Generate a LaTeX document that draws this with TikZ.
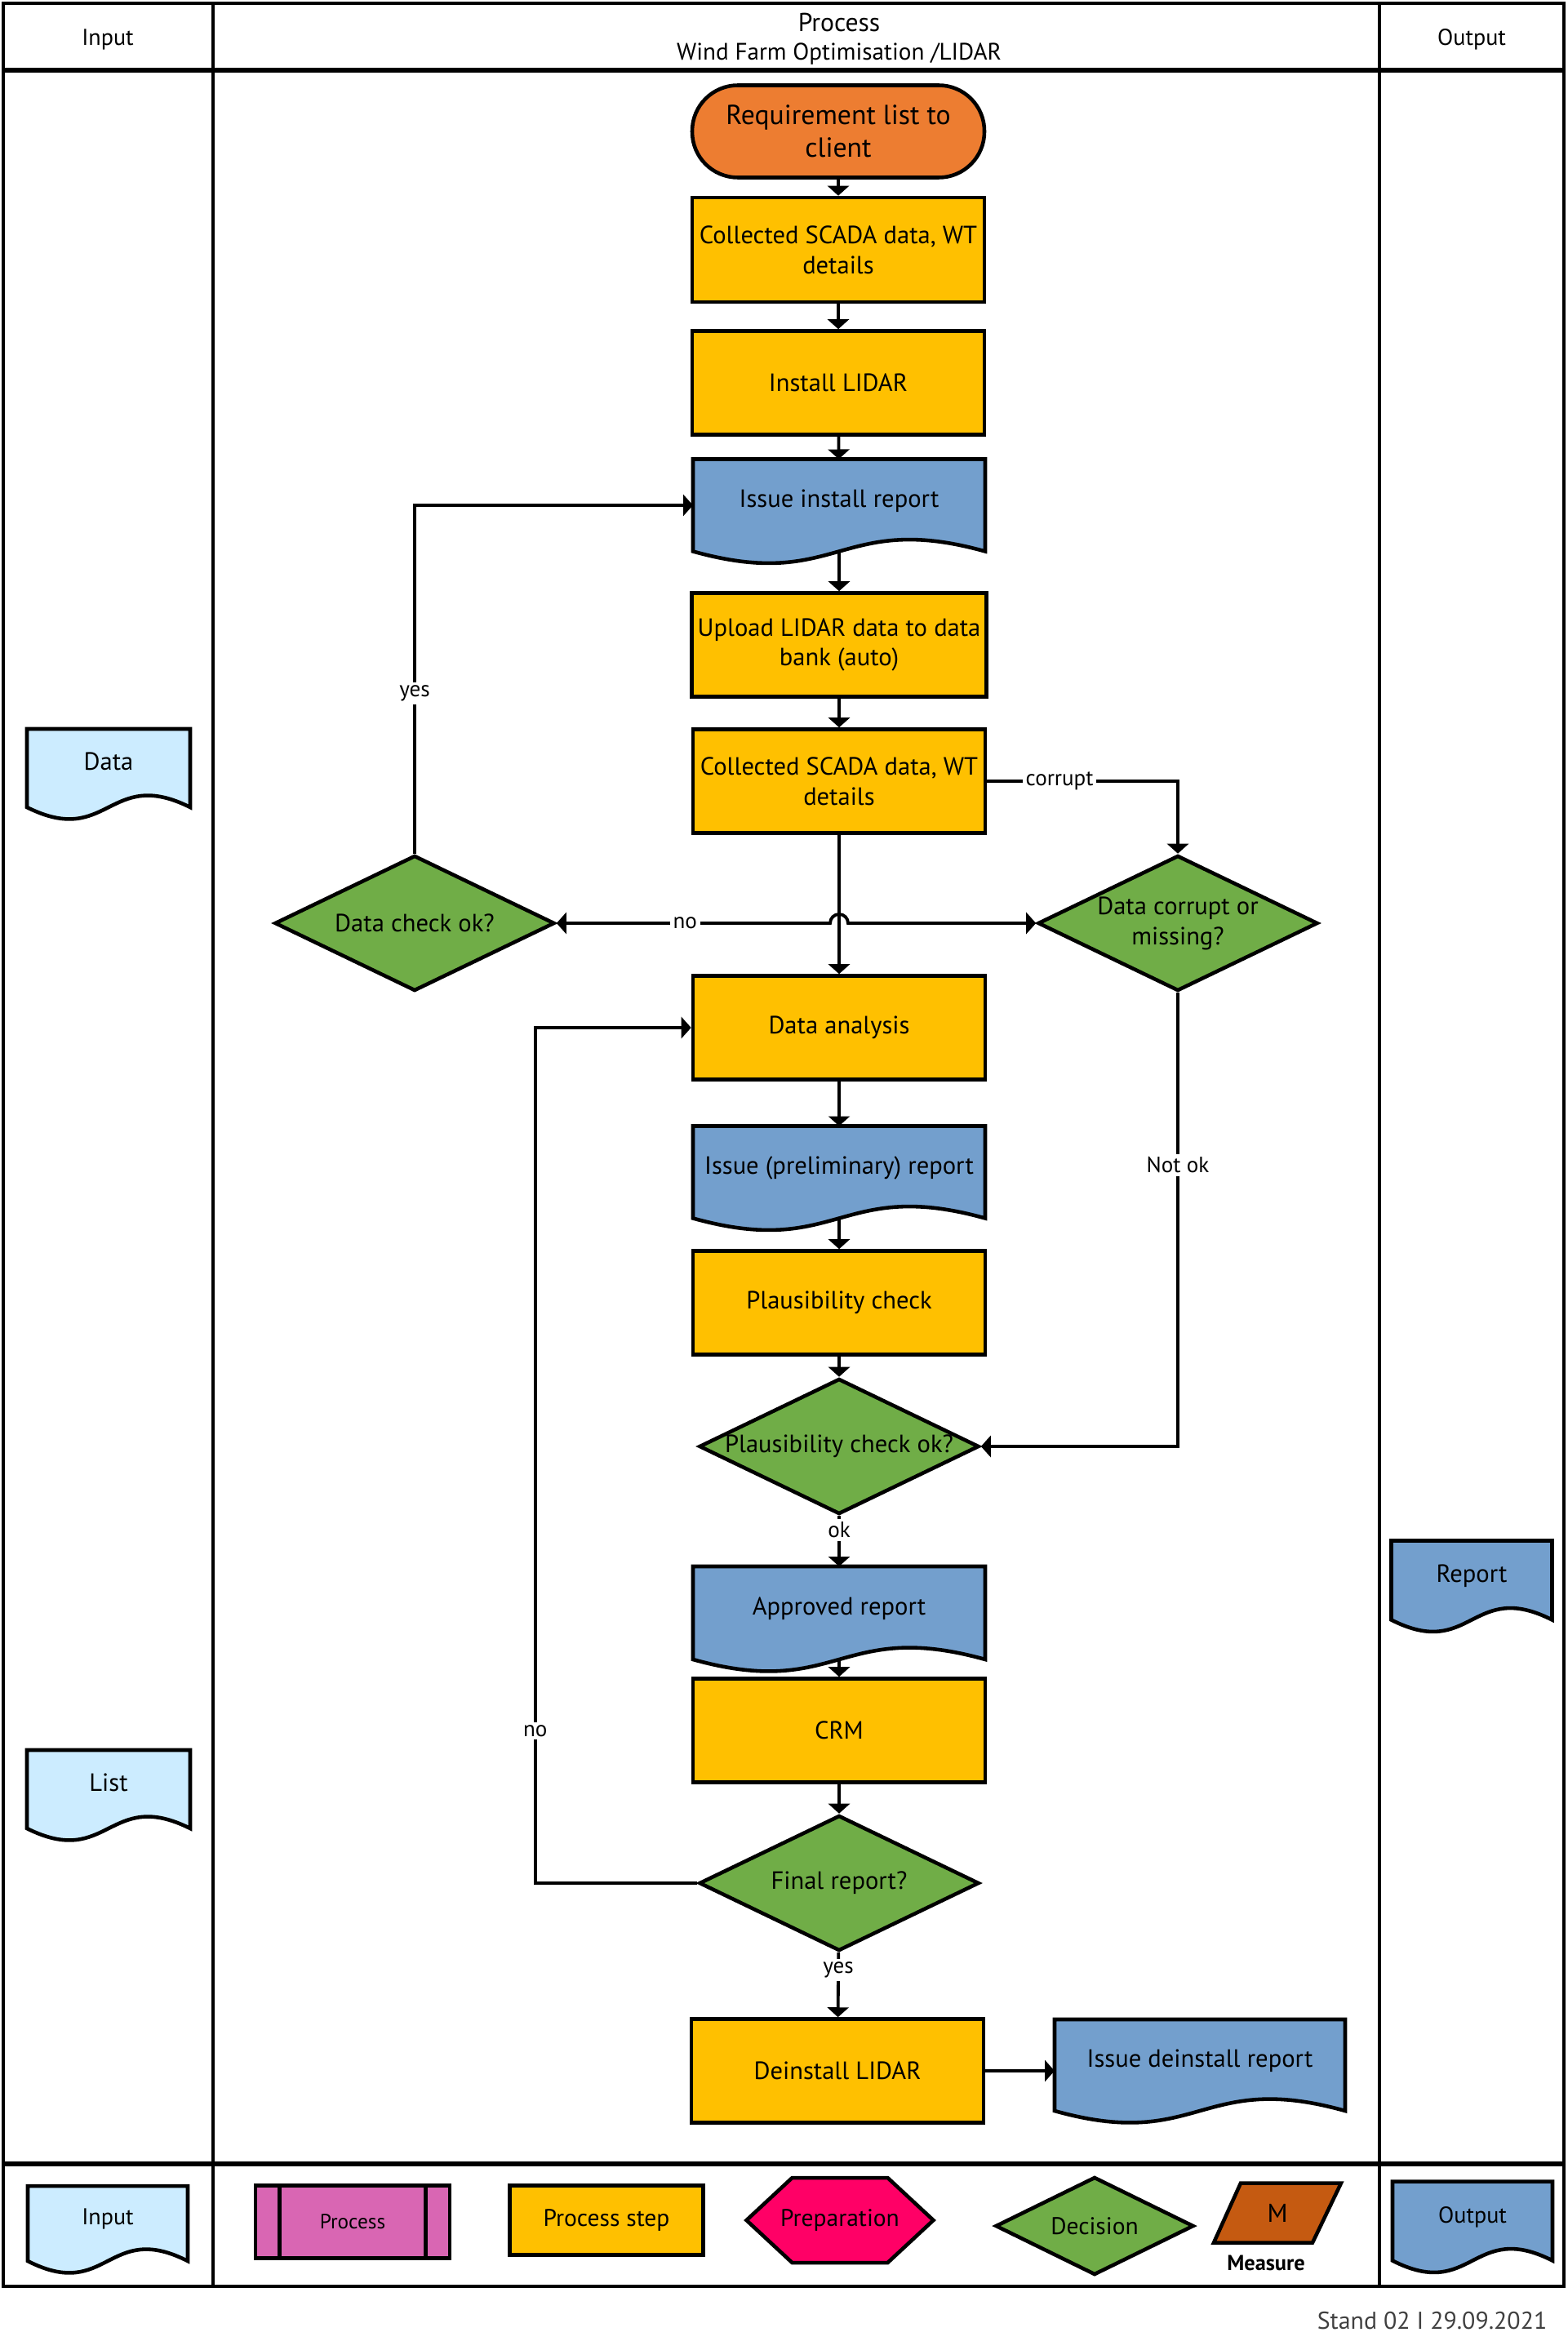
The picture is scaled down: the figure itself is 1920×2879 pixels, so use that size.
\documentclass[tikz,border=0pt]{standalone}
\usepackage{fontspec}
\setmainfont{PT Sans}
\usepackage{xcolor}
\usetikzlibrary{shapes.geometric, arrows.meta, calc, backgrounds}

\definecolor{termcol}{HTML}{ED7D31}
\definecolor{stepcol}{HTML}{FFC000}
\definecolor{doccol}{HTML}{739FCD}
\definecolor{inputcol}{HTML}{CCECFF}
\definecolor{deccol}{HTML}{70AD47}
\definecolor{proccol}{HTML}{D966B3}
\definecolor{prepcol}{HTML}{FF0066}
\definecolor{meascol}{HTML}{C55A11}

\tikzset{
  boxtext/.style={font=\fontsize{8.7}{10.5}\selectfont, align=center},
  stepbox/.style={boxtext, draw, line width=1.3pt, fill=stepcol, minimum width=35.8mm, minimum height=12.7mm, inner sep=2pt},
  termbox/.style={stepbox, fill=termcol, rounded corners=5.6mm, minimum height=11.3mm, font=\fontsize{9.6}{11.3}\selectfont},
  decbox/.style={boxtext, diamond, draw, line width=1.3pt, fill=deccol, aspect=2.07, inner sep=0pt, minimum width=34.3mm, minimum height=16.6mm},
  plainbox/.style={boxtext, inner sep=0pt, outer sep=0pt},
  docbox/.style={plainbox, text depth=1.6mm, minimum width=35.8mm, minimum height=11.3mm},
  arr/.style={line width=1.1pt, -{Triangle[width=2.6mm,length=1.2mm]}},
  lbl/.style={fill=white, inner sep=1pt, font=\fontsize{7.7}{9}\selectfont},
  lane/.style={line width=1.3pt},
  divider/.style={line width=1.8pt}
}

% document outline with wavy bottom, drawn round a docbox node
\newcommand{\docpath}[2]{%
  \draw[line width=1.3pt, fill=#2] (#1.south west) -- (#1.north west) -- (#1.north east) -- (#1.south east)
    .. controls ($(#1.south)+(0,-50)$) and ($(#1.south)+(0,50)$) .. (#1.south west) -- cycle;}

\begin{document}
\begin{tikzpicture}[x=0.1mm, y=-0.1mm]
  \useasboundingbox (0,0) rectangle (1920,2879);

  % Swimlane frame
  \draw[lane] (4,4) rectangle (1916,2801);
  \draw[lane] (261,4) -- (261,2801);
  \draw[lane] (1690,4) -- (1690,2801);
  \draw[divider] (4,86) -- (1916,86);
  \draw[divider] (4,2651) -- (1916,2651);

  % Header
  \node[font=\fontsize{8}{10}\selectfont] (hin) at (132,48) {Input};
  \node[font=\fontsize{9}{11}\selectfont] (hproc) at (1028,28) {Process};
  \node[font=\fontsize{8.3}{10}\selectfont] (hsub) at (1028,66) {Wind Farm Optimisation /LIDAR};
  \node[font=\fontsize{8}{10}\selectfont] (hout) at (1803,48) {Output};

  % Main flow
  \node[termbox] (req) at (1027,161) {Requirement list to\\client};
  \node[stepbox, minimum height=12.8mm] (scada1) at (1027,306) {Collected SCADA data, WT\\details};
  \node[stepbox] (lidar) at (1027,469) {Install LIDAR};
  \node[docbox] (rep1) at (1028,619) {Issue install report};
  \node[stepbox] (upload) at (1028,790) {Upload LIDAR data to data\\bank (auto)};
  \node[stepbox] (scada2) at (1028,957) {Collected SCADA data, WT\\details};
  \node[decbox] (dcheck) at (508,1131) {Data check ok?};
  \node[decbox] (dcorr) at (1443,1131) {Data corrupt or\\missing?};
  \node[stepbox] (analysis) at (1028,1259) {Data analysis};
  \node[docbox] (rep2) at (1028,1436) {Issue (preliminary) report};
  \node[stepbox] (plaus) at (1028,1596) {Plausibility check};
  \node[decbox] (dplaus) at (1028,1772) {Plausibility check ok?};
  \node[docbox, minimum height=11.4mm] (approved) at (1028,1976) {Approved report};
  \node[stepbox] (crm) at (1028,2120) {CRM};
  \node[decbox] (dfinal) at (1028,2307) {Final report?};
  \node[stepbox] (deinst) at (1026,2537) {Deinstall LIDAR};
  \node[docbox, minimum width=35.6mm, minimum height=11.2mm] (rep3) at (1470,2530) {Issue deinstall report};

  % Connectors
  \draw[arr] (req) -- (scada1);
  \draw[arr] (scada1) -- (lidar);
  \draw[arr] (lidar) -- (rep1);
  \draw[arr] (rep1) -- (upload);
  \draw[arr] (upload) -- (scada2);
  \draw[arr] (scada2) -- (analysis);
  \draw[arr] (scada2.east) -| node[lbl, pos=0.19] {corrupt} (dcorr.north);
  \draw[line width=1.1pt, {Triangle[width=2.6mm,length=1.2mm]}-{Triangle[width=2.6mm,length=1.2mm]}]
    (dcorr.west) -- ($(scada2.south |- dcorr.west)+(11,0)$)
    arc[start angle=0, end angle=-180, radius=11]
    -- node[lbl, pos=0.53] {no} (dcheck.east);
  \draw[arr] (dcheck.north) |- node[lbl, pos=0.23] {yes} (rep1.west);
  \draw[arr] (dcorr.south) |- node[lbl, pos=0.19] {Not ok} (dplaus.east);
  \draw[arr] (analysis) -- (rep2);
  \draw[arr] (rep2) -- (plaus);
  \draw[arr] (plaus) -- (dplaus);
  \draw[arr] (dplaus) -- node[lbl, pos=0.28] {ok} (approved);
  \draw[arr] (approved) -- (crm);
  \draw[arr] (crm) -- (dfinal);
  \draw[arr] (dfinal.west) -| node[lbl, pos=0.589] {no} ($(analysis.west)+(-191,0)$) -- (analysis.west);
  \draw[arr] (dfinal) -- node[lbl, pos=0.27] {yes} (deinst);
  \draw[arr] (deinst.east) -- (deinst.east -| rep3.west);

  % Input and output documents
  \node[docbox, minimum width=20mm, minimum height=9.6mm] (data) at (133,941) {Data};
  \node[docbox, minimum width=20mm, minimum height=9.6mm] (list) at (133,2192) {List};
  \node[docbox, minimum width=19.7mm, minimum height=9.7mm] (report) at (1803,1936) {Report};

  % Legend
  \node[docbox, minimum width=19.6mm, minimum height=9.2mm, font=\fontsize{8}{10}\selectfont] (lin) at (132,2724) {Input};
  \node[stepbox, fill=proccol, minimum width=23.8mm, minimum height=8.9mm, font=\fontsize{7.2}{9}\selectfont] (lproc) at (432,2722) {Process};
  \draw[line width=1.3pt] ($(lproc.north west)+(32,0)$) -- ($(lproc.south west)+(32,0)$);
  \draw[line width=1.3pt] ($(lproc.north east)+(-32,0)$) -- ($(lproc.south east)+(-32,0)$);
  \node[stepbox, minimum width=23.7mm, minimum height=8.5mm, font=\fontsize{8.4}{10}\selectfont] (lstep) at (743,2720) {Process step};
  \node[plainbox, minimum width=22.9mm, minimum height=10.4mm, font=\fontsize{8.4}{10}\selectfont] (lprep) at (1029,2720) {Preparation};
  \node[decbox, aspect=2, minimum width=24.3mm, minimum height=12mm, font=\fontsize{8.4}{10}\selectfont] (ldec) at (1341,2727) {Decision};
  \node[plainbox, minimum width=15.6mm, minimum height=7.3mm, font=\fontsize{9}{11}\selectfont] (lmeas) at (1565,2711) {M};
  \node[font=\bfseries\fontsize{7.5}{9}\selectfont] (lmeaslbl) at (1551,2772) {Measure};
  \node[docbox, minimum width=19.6mm, minimum height=9.7mm, font=\fontsize{8}{10}\selectfont] (lout) at (1804,2721) {Output};

  % Outlines behind the texts
  \begin{scope}[on background layer]
    \docpath{rep1}{doccol}
    \docpath{rep2}{doccol}
    \docpath{approved}{doccol}
    \docpath{rep3}{doccol}
    \docpath{report}{doccol}
    \docpath{lout}{doccol}
    \docpath{data}{inputcol}
    \docpath{list}{inputcol}
    \docpath{lin}{inputcol}
    \draw[line width=1.3pt, fill=prepcol] (lprep.west) -- ($(lprep.north west)+(56,0)$) -- ($(lprep.north east)+(-56,0)$)
      -- (lprep.east) -- ($(lprep.south east)+(-56,0)$) -- ($(lprep.south west)+(56,0)$) -- cycle;
    \draw[line width=1.3pt, fill=meascol] (lmeas.south west) -- ($(lmeas.north west)+(33,0)$) -- (lmeas.north east)
      -- ($(lmeas.south east)+(-35,0)$) -- cycle;
  \end{scope}

  \node[anchor=east, inner sep=0pt, text=black!75, font=\fontsize{8.5}{10}\selectfont] (stand) at (1896,2843) {Stand 02 I 29.09.2021};
\end{tikzpicture}
\end{document}
